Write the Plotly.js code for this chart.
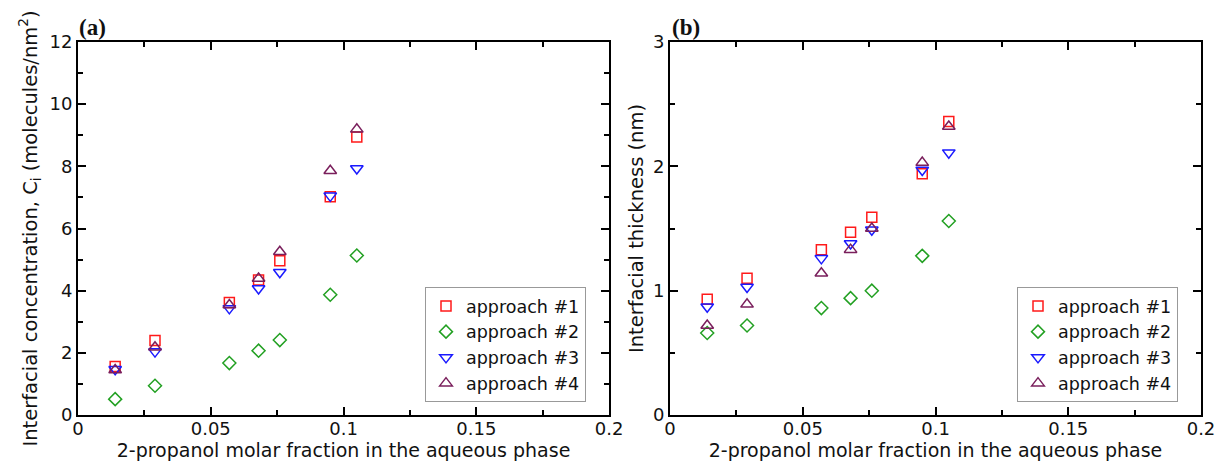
<!DOCTYPE html>
<html><head><meta charset="utf-8">
<script src="https://cdn.plot.ly/plotly-3.0.1.min.js"></script>
<style>html,body{margin:0;padding:0;background:#fff}#chart{width:1219px;height:465px}</style>
</head><body><div id="chart"></div>
<script>
const xFraction = [0.014, 0.029, 0.057, 0.068, 0.076, 0.095, 0.105];
const seriesNames = ["approach #1", "approach #2", "approach #3", "approach #4"];
// Panel (a): interfacial concentration (molecules/nm^2)
const concA1 = [1.56, 2.40, 3.62, 4.34, 4.96, 7.02, 8.94];
const concA2 = [0.51, 0.94, 1.67, 2.07, 2.41, 3.87, 5.13];
const concA3 = [1.47, 2.04, 3.43, 4.07, 4.59, 7.05, 7.93];
const concA4 = [1.45, 2.18, 3.54, 4.39, 5.25, 7.86, 9.19];
// Panel (b): interfacial thickness (nm)
const thickA1 = [0.93, 1.10, 1.33, 1.47, 1.59, 1.94, 2.36];
const thickA2 = [0.66, 0.72, 0.86, 0.94, 1.00, 1.28, 1.56];
const thickA3 = [0.87, 1.03, 1.26, 1.38, 1.49, 1.97, 2.11];
const thickA4 = [0.72, 0.89, 1.14, 1.33, 1.50, 2.03, 2.32];

const colors = ["#ff1a1a", "#22a022", "#1a1aff", "#7a1f5c"];
const symbols = ["square-open", "diamond-open", "triangle-down-open", "triangle-up-open"];
const sizes = [10, 10, 11, 11];

const concSets = [concA1, concA2, concA3, concA4];
const thickSets = [thickA1, thickA2, thickA3, thickA4];
const traces = [];
concSets.forEach((ys, i) => traces.push({
  x: xFraction, y: ys, type: "scatter", mode: "markers", name: seriesNames[i],
  xaxis: "x", yaxis: "y", legend: "legend",
  marker: {symbol: symbols[i], size: sizes[i], color: colors[i], line: {color: colors[i], width: 1.5}}
}));
thickSets.forEach((ys, i) => traces.push({
  x: xFraction, y: ys, type: "scatter", mode: "markers", name: seriesNames[i],
  xaxis: "x2", yaxis: "y2", legend: "legend2",
  marker: {symbol: symbols[i], size: sizes[i], color: colors[i], line: {color: colors[i], width: 1.5}}
}));

const FAM = "DejaVu Sans, Liberation Sans, Arial, sans-serif";
const tickFont = {family: FAM, size: 18, color: "#111"};
function xax(domain, anchor) {
  return {
    domain: domain, anchor: anchor, range: [0, 0.2], dtick: 0.05, tick0: 0,
    showline: true, linewidth: 2, linecolor: "#000", mirror: "ticks",
    ticks: "inside", ticklen: 8, tickwidth: 2, tickcolor: "#000",
    minor: {dtick: 0.025, ticks: "inside", ticklen: 5, tickwidth: 2, tickcolor: "#000"},
    showgrid: false, zeroline: false, tickfont: tickFont, ticklabelstandoff: -4,
    title: {text: "2-propanol molar fraction in the aqueous phase", font: {family: FAM, size: 19, color: "#111"}, standoff: 0}
  };
}
function yax(domain, anchor, range, dtick, title, standoff) {
  return {
    domain: domain, anchor: anchor, range: range, dtick: dtick, tick0: 0,
    showline: true, linewidth: 2, linecolor: "#000", mirror: "ticks",
    ticks: "inside", ticklen: 8, tickwidth: 2, tickcolor: "#000",
    minor: {dtick: dtick / 2, ticks: "inside", ticklen: 5, tickwidth: 2, tickcolor: "#000"},
    showgrid: false, zeroline: false, tickfont: tickFont, ticklabelstandoff: 0,
    title: {text: title, font: {family: FAM, size: 19.5, color: "#111"}, standoff: standoff}
  };
}
const legendBase = {
  font: {family: FAM, size: 17.5, color: "#111"},
  bgcolor: "#fff", bordercolor: "#999", borderwidth: 1,
  xanchor: "left", yanchor: "top", tracegroupgap: 0, itemwidth: 30
};
const layout = {
  width: 1219, height: 465,
  margin: {l: 78, r: 18, t: 42, b: 50},
  paper_bgcolor: "#fff", plot_bgcolor: "#fff",
  showlegend: true,
  xaxis: xax([0, 0.4729], "y"),
  yaxis: yax([0, 1], "x", [0, 12], 2, "Interfacial concentration, C<sub>i</sub> (molecules/nm<sup>2</sup>)", 7),
  xaxis2: xax([0.5272, 1], "y2"),
  yaxis2: yax([0, 1], "x2", [0, 3], 1, "Interfacial thickness (nm)", 4),
  legend: Object.assign({}, legendBase, {x: (425 - 78) / 1123, y: (415 - 287) / 373}),
  legend2: Object.assign({}, legendBase, {x: (1017 - 78) / 1123, y: (415 - 287) / 373}),
  annotations: [
    {text: "<b>(a)</b>", xref: "paper", yref: "paper", x: (77 - 78) / 1123, y: 1, xanchor: "left", yanchor: "bottom",
     showarrow: false, font: {family: "Liberation Serif, Times New Roman, serif", size: 23, color: "#111"}, yshift: 0},
    {text: "<b>(b)</b>", xref: "paper", yref: "paper", x: (670 - 78) / 1123, y: 1, xanchor: "left", yanchor: "bottom",
     showarrow: false, font: {family: "Liberation Serif, Times New Roman, serif", size: 23, color: "#111"}, yshift: 0}
  ]
};
Plotly.newPlot("chart", traces, layout, {displayModeBar: false, staticPlot: true});
</script>
</body></html>
